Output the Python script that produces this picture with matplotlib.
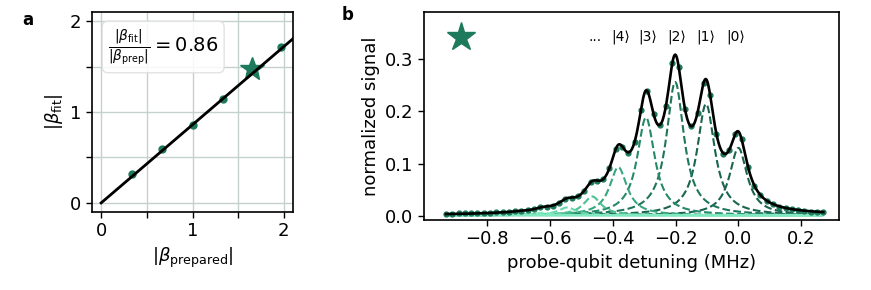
import numpy as np
import matplotlib
matplotlib.use("Agg")
import matplotlib.pyplot as plt
from matplotlib.colors import LinearSegmentedColormap

# ---------------- data: panel a ----------------
beta_prepared = [0.34, 0.67, 1.01, 1.33, 1.97]
beta_fit = [0.32, 0.59, 0.855, 1.14, 1.71]
star_prepared = 1.65
star_fit = 1.47
slope = 0.86

# ---------------- data: panel b ----------------
detuning = [-0.93, -0.91, -0.89, -0.87, -0.85, -0.83, -0.81, -0.79, -0.77, -0.75,
            -0.73, -0.71, -0.69, -0.67, -0.65, -0.63, -0.61, -0.59, -0.57, -0.55,
            -0.53, -0.51, -0.49, -0.47, -0.45, -0.43, -0.41, -0.39, -0.37, -0.35,
            -0.33, -0.31, -0.29, -0.27, -0.25, -0.23, -0.21, -0.19, -0.17, -0.15,
            -0.13, -0.11, -0.09, -0.07, -0.05, -0.03, -0.01, 0.01, 0.03, 0.05,
            0.07, 0.09, 0.11, 0.13, 0.15, 0.17, 0.19, 0.21, 0.23, 0.25, 0.27]
signal = [0.0041, 0.0043, 0.0045, 0.0047, 0.0050, 0.0053, 0.0057, 0.0061, 0.0066, 0.0072,
          0.0079, 0.0088, 0.0099, 0.0108, 0.0128, 0.0160, 0.0178, 0.0197, 0.0249, 0.0324,
          0.0347, 0.0374, 0.048, 0.064, 0.067, 0.070, 0.091, 0.1275, 0.132, 0.121,
          0.141, 0.202, 0.238, 0.195, 0.174, 0.211, 0.292, 0.285, 0.204, 0.171,
          0.197, 0.254, 0.231, 0.157, 0.118, 0.125, 0.156, 0.147, 0.094, 0.058,
          0.040, 0.0288, 0.022, 0.0178, 0.0147, 0.0124, 0.0107, 0.0093, 0.0082, 0.0074, 0.0068]

# fitted Lorentzian components (one per photon number |n>)
peak_centers = [0.0, -0.103, -0.201, -0.294, -0.382, -0.465, -0.545, -0.622, -0.697, -0.770,
                -0.840, -0.905, -0.960, -1.010]
peak_heights = [0.129, 0.213, 0.255, 0.187, 0.092, 0.036, 0.015, 0.005, 0.0015, 0.0004,
                0.0001, 0.0, 0.0, 0.0]
peak_widths = [0.034] * 14
fit_offset = 0.001
state_labels = ["...", "|4⟩", "|3⟩", "|2⟩", "|1⟩", "|0⟩"]
state_label_x = [-0.455, -0.375, -0.29, -0.198, -0.105, -0.01]

teal = "#1e7a5c"
grid_c = "#c4d2ce"
FS = 13

fig = plt.figure(figsize=(8.71, 2.9), dpi=100)
axa = fig.add_axes([92 / 871, 1 - 212 / 290, 201 / 871, 200 / 290])
axb = fig.add_axes([424 / 871, 1 - 220 / 290, 415 / 871, 208 / 290])

# ---------------- panel a ----------------
axa.set_xlim(-0.1, 2.1)
axa.set_ylim(-0.1, 2.1)
axa.set_xticks([0, 1, 2])
axa.set_yticks([0, 1, 2])
axa.set_xticks([0.5, 1.5], minor=True)
axa.set_yticks([0.5, 1.5], minor=True)
axa.grid(True, which="both", color=grid_c, lw=1.0)
axa.set_axisbelow(True)
axa.tick_params(which="both", length=4, width=1)
axa.tick_params(labelsize=FS)
xl = np.array([0, 2.1])
axa.plot(beta_prepared, beta_fit, "o", color=teal, ms=5, zorder=2)
axa.plot(xl, slope * xl, color="black", lw=2, zorder=3)
axa.plot([star_prepared], [star_fit], "*", color=teal, ms=18, zorder=2)
axa.set_xlabel(r"$|\beta_\mathrm{prepared}|$", fontsize=FS)
axa.set_ylabel(r"$|\beta_\mathrm{fit}|$", fontsize=FS)
axa.text(0.08, 0.925, r"$\frac{|\beta_\mathrm{fit}|}{|\beta_\mathrm{prep}|} = 0.86$",
         transform=axa.transAxes, fontsize=14, va="top", ha="left",
         bbox=dict(boxstyle="round,pad=0.3", fc="white", ec="#dddddd", alpha=0.85),
         zorder=5)
for s in axa.spines.values():
    s.set_linewidth(1.2)

# ---------------- panel b ----------------
cmap = LinearSegmentedColormap.from_list("g", ["#1b6450", "#25896a", "#4cc293", "#80e9bf"])
xx = np.linspace(min(detuning), max(detuning), 600)
comps = []
n = len(peak_centers)
for i in range(n):
    c, h, w = peak_centers[i], peak_heights[i], peak_widths[i]
    comp = h / (1 + ((xx - c) / w) ** 2)
    comps.append(comp)
    t = min(1.0, max(0.0, (i - 1) / 6.0))
    axb.plot(xx, comp + fit_offset, color=cmap(t), lw=1.5, zorder=2,
             linestyle=(i * 1.4, (3.7, 1.6)))
total = np.sum(comps, axis=0) + fit_offset
axb.plot(detuning, signal, "o", color=teal, ms=3.5, zorder=3)
axb.plot(xx, total, color="black", lw=1.9, zorder=4)
axb.plot([-0.883], [0.342], "*", color=teal, ms=21, zorder=5)
for lab, lx in zip(state_labels, state_label_x):
    axb.text(lx, 0.342, lab, fontsize=10, ha="center", va="center")
axb.set_xlim(-1.0, 0.32)
axb.set_ylim(-0.008, 0.39)
axb.set_xticks([-0.8, -0.6, -0.4, -0.2, 0.0, 0.2])
axb.set_yticks([0.0, 0.1, 0.2, 0.3])
axb.tick_params(labelsize=FS, length=4, width=1)
axb.set_xlabel("probe-qubit detuning (MHz)", fontsize=FS)
axb.set_ylabel("normalized signal", fontsize=FS)
for s in axb.spines.values():
    s.set_linewidth(1.2)

fig.text(28 / 871, 1 - 20 / 290, "a", fontsize=12, fontweight="bold", ha="center", va="center")
fig.text(348 / 871, 1 - 15 / 290, "b", fontsize=12, fontweight="bold", ha="center", va="center")

fig.savefig("out.png", dpi=100)
